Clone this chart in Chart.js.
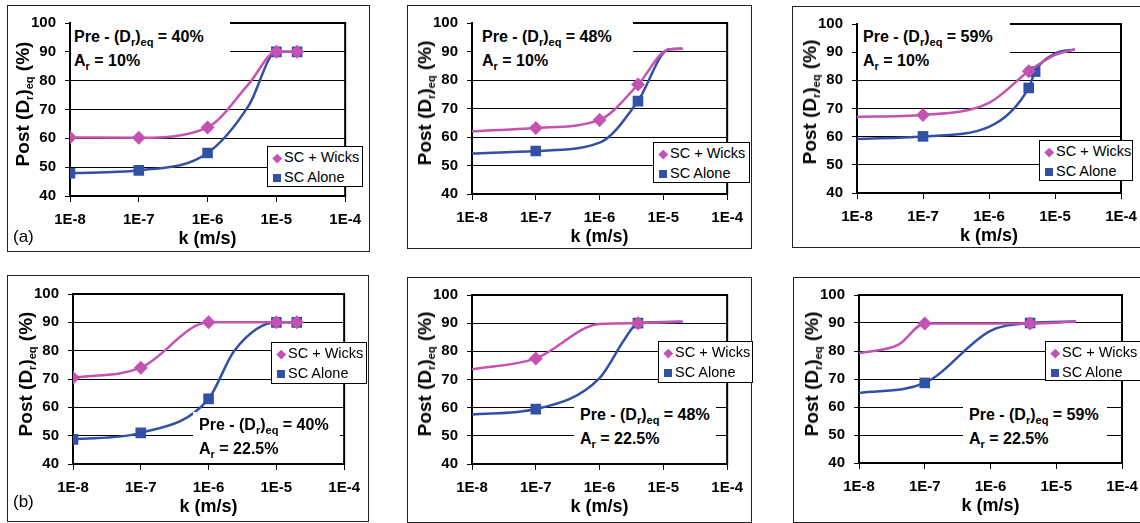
<!DOCTYPE html>
<html>
<head>
<meta charset="utf-8">
<title>Post (Dr)eq vs k</title>
<script src="https://cdn.jsdelivr.net/npm/chart.js@4.4.1/dist/chart.umd.min.js"></script>
<style>
  body {
    margin: 0;
    width: 1140px;
    height: 523px;
    overflow: hidden;
    position: relative;
    background: #fff;
    font-family: "Liberation Sans", Arial, sans-serif;
    color: #000;
  }
  .panel {
    position: absolute;
    border: 1.5px solid #222;
    box-sizing: border-box;
  }
  canvas { position: absolute; }
  .note {
    position: absolute;
    background: #fff;
    font-weight: bold;
    font-size: 16px;
    line-height: 24px;
    white-space: nowrap;
    box-sizing: border-box;
  }
  .note sub, .ytitle sub {
    font-size: 11px;
    line-height: 0;
    vertical-align: -4px;
  }
  .legend {
    position: absolute;
    background: #fff;
    border: 1px solid #000;
    box-sizing: border-box;
    font-size: 14.5px;
    padding-top: 1px;
  }
  .legend .row {
    position: relative;
    height: 19.5px;
    line-height: 19.5px;
    padding-left: 16px;
    white-space: nowrap;
  }
  .legend .dia {
    position: absolute;
    left: 6px; top: 7px;
    width: 6.5px; height: 6.5px;
    transform: rotate(45deg);
  }
  .legend .sq {
    position: absolute;
    left: 5px; top: 6px;
    width: 8px; height: 8px;
  }
  .ytitle {
    position: absolute;
    font-weight: bold;
    font-size: 19px;
    white-space: nowrap;
    transform: translate(-50%, -50%) rotate(-90deg);
  }
  .tag {
    position: absolute;
    font-size: 17px;
    line-height: 20px;
  }
</style>
</head>
<body>
<script>
// axis ticks
var xTickVals = [1e-8, 1e-7, 1e-6, 1e-5, 1e-4];
var xTickLabels = ['1E-8', '1E-7', '1E-6', '1E-5', '1E-4'];
var yMin = 40, yMax = 100, yStep = 10;
var seriesNames = ['SC + Wicks', 'SC Alone'];

// top row, Ar = 10%  (mark 0 = point on the curve without a marker)
var kWicks40a = [1e-8, 1e-7, 1e-6, 4e-6, 1e-5, 2e-5];
var wicks40a = [60.3, 60.2, 63.8, 79, 90, 90];
var markWicks40a = [1, 1, 1, 0, 1, 1];
var kAlone40a = [1e-8, 1e-7, 1e-6, 4e-6, 1e-5, 2e-5];
var alone40a = [47.9, 48.9, 54.9, 71.5, 90, 90];
var markAlone40a = [1, 1, 1, 0, 1, 1];

var kWicks48a = [1e-8, 1e-7, 1e-6, 4e-6, 1.2e-5, 2e-5];
var wicks48a = [62, 63.2, 66, 78.4, 90.7, 91];
var markWicks48a = [0, 1, 1, 1, 0, 0];
var kAlone48a = [1e-8, 1e-7, 1e-6, 4e-6, 1.2e-5, 2e-5];
var alone48a = [54.2, 55.1, 58, 72.6, 90.7, 91];
var markAlone48a = [0, 1, 0, 1, 0, 0];

var kWicks59a = [1e-8, 1e-7, 1e-6, 4e-6, 1e-5, 2e-5];
var wicks59a = [67.1, 67.7, 72, 83.2, 89, 91];
var markWicks59a = [0, 1, 0, 1, 0, 0];
var kAlone59a = [1e-8, 1e-7, 1e-6, 4e-6, 5e-6, 1e-5, 2e-5];
var alone59a = [59.2, 60.1, 63.5, 77.3, 83.1, 89.5, 91];
var markAlone59a = [0, 1, 0, 1, 1, 0, 0];

// bottom row, Ar = 22.5%
var kWicks40b = [1e-8, 1e-7, 1e-6, 1e-5, 2e-5];
var wicks40b = [70.4, 74, 90, 90, 90];
var markWicks40b = [1, 1, 1, 1, 1];
var kAlone40b = [1e-8, 1e-7, 1e-6, 2.4e-6, 1e-5, 2e-5];
var alone40b = [48.7, 51, 63, 80, 90, 90];
var markAlone40b = [1, 1, 1, 0, 1, 1];

var kWicks48b = [1e-8, 1e-7, 1e-6, 4e-6, 2e-5];
var wicks48b = [73.6, 77.5, 89.7, 90, 90.5];
var markWicks48b = [0, 1, 0, 1, 0];
var kAlone48b = [1e-8, 1e-7, 1e-6, 2.5e-6, 4e-6, 2e-5];
var alone48b = [57.6, 59.5, 70.5, 84.5, 90, 90.5];
var markAlone48b = [0, 1, 0, 0, 1, 0];

var kWicks59b = [1e-8, 4e-8, 1e-7, 4e-6, 2e-5];
var wicks59b = [79.2, 82.3, 89.8, 89.8, 90.5];
var markWicks59b = [0, 0, 1, 1, 0];
var kAlone59b = [1e-8, 1e-7, 1e-6, 4e-6, 2e-5];
var alone59b = [65, 68.6, 87.2, 90, 90.5];
var markAlone59b = [0, 1, 0, 1, 0];

var PINK = '#c452b2';
var BLUE = '#3150a6';
var FONT = '"Liberation Sans", Arial, sans-serif';
var YW = 40, XH = 54;

// layout of the six panels: outer box [x, y, w, h], plot area [l, t, r, b]
var panels = [
  {box: [7, 5, 363, 247], plot: [70, 21, 348, 196], pre: '40', ar: '10',
   wicks: [kWicks40a, wicks40a, markWicks40a], alone: [kAlone40a, alone40a, markAlone40a],
   note: [71, 22, 159, 50, 3, 3], legend: [267, 146, 96, 41], tag: ['(a)', 13, 227]},
  {box: [407, 5, 345, 244], plot: [472, 21, 734, 194], pre: '48', ar: '10',
   wicks: [kWicks48a, wicks48a, markWicks48a], alone: [kAlone48a, alone48a, markAlone48a],
   note: [473, 22, 160, 50, 9, 3], legend: [653, 142, 97, 41]},
  {box: [792, 6, 360, 242], plot: [857, 21, 1121, 193], pre: '59', ar: '10',
   wicks: [kWicks59a, wicks59a, markWicks59a], alone: [kAlone59a, alone59a, markAlone59a],
   note: [858, 22, 152, 50, 5, 3], legend: [1039, 140, 94, 41]},
  {box: [7, 275, 362, 247], plot: [73, 294, 348, 464], pre: '40', ar: '22.5',
   wicks: [kWicks40b, wicks40b, markWicks40b], alone: [kAlone40b, alone40b, markAlone40b],
   note: [193, 412, 147, 46, 6, 1], legend: [271, 342, 96, 42], tag: ['(b)', 13, 492]},
  {box: [407, 277, 345, 246], plot: [472, 294, 734, 464], pre: '48', ar: '22.5',
   wicks: [kWicks48b, wicks48b, markWicks48b], alone: [kAlone48b, alone48b, markAlone48b],
   note: [574, 400, 142, 50, 6, 3], legend: [658, 341, 95, 42]},
  {box: [793, 277, 360, 246], plot: [859, 294, 1122, 463], pre: '59', ar: '22.5',
   wicks: [kWicks59b, wicks59b, markWicks59b], alone: [kAlone59b, alone59b, markAlone59b],
   note: [963, 400, 144, 50, 6, 3], legend: [1045, 341, 100, 40]}
];

var framePlugin = {
  id: 'frame',
  beforeDatasetsDraw: function (chart) {
    var a = chart.chartArea, c = chart.ctx;
    c.save();
    c.strokeStyle = '#000';
    c.lineWidth = 2;
    c.strokeRect(a.left, a.top, a.right - a.left, a.bottom - a.top);
    c.restore();
  }
};

function toPoints(xs, ys) {
  return xs.map(function (x, i) { return {x: x, y: ys[i]}; });
}

function el(tag, cls, css, html) {
  var d = document.createElement(tag);
  if (cls) d.className = cls;
  for (var k in css) d.style[k] = css[k];
  if (html) d.innerHTML = html;
  document.body.appendChild(d);
  return d;
}

panels.forEach(function (p) {
  var b = p.box, pl = p.plot;
  el('div', 'panel', {left: b[0] + 'px', top: b[1] + 'px', width: b[2] + 'px', height: b[3] + 'px'});

  var cv = el('canvas', '', {left: b[0] + 'px', top: b[1] + 'px'});
  cv.width = b[2];
  cv.height = b[3];

  new Chart(cv, {
    type: 'line',
    data: {
      datasets: [
        {label: seriesNames[0], data: toPoints(p.wicks[0], p.wicks[1]),
         borderColor: PINK, backgroundColor: PINK, borderWidth: 2.5,
         pointStyle: 'rectRot', pointRadius: p.wicks[2].map(function (m) { return m ? 7 : 0; }),
         pointBorderWidth: 0, tension: 0.4, cubicInterpolationMode: 'monotone'},
        {label: seriesNames[1], data: toPoints(p.alone[0], p.alone[1]),
         borderColor: BLUE, backgroundColor: BLUE, borderWidth: 2.5,
         pointStyle: 'rect', pointRadius: p.alone[2].map(function (m) { return m ? 7.5 : 0; }),
         pointBorderWidth: 0, tension: 0.4, cubicInterpolationMode: 'monotone'}
      ]
    },
    options: {
      responsive: false,
      animation: false,
      events: [],
      layout: {padding: {
        left: pl[0] - b[0] - YW,
        top: pl[1] - b[1],
        right: b[0] + b[2] - pl[2],
        bottom: b[1] + b[3] - pl[3] - XH
      }},
      plugins: {legend: {display: false}, tooltip: {enabled: false}},
      scales: {
        x: {
          type: 'logarithmic', min: 1e-8, max: 1e-4,
          afterBuildTicks: function (s) { s.ticks = xTickVals.map(function (v) { return {value: v}; }); },
          afterFit: function (s) { s.height = XH; },
          ticks: {
            callback: function (v, i) { return xTickLabels[i]; },
            font: {family: FONT, size: 15, weight: 'bold'}, color: '#000',
            padding: 9, maxRotation: 0, autoSkip: false
          },
          grid: {drawOnChartArea: false, tickLength: 6, color: '#000', lineWidth: 1},
          border: {color: '#000', width: 2},
          title: {display: true, text: 'k (m/s)', color: '#000', padding: 0,
                  font: {family: FONT, size: 18, weight: 'bold'}}
        },
        y: {
          min: yMin, max: yMax,
          afterFit: function (s) { s.width = YW; },
          ticks: {stepSize: yStep, padding: 9, color: '#000',
                  font: {family: FONT, size: 15, weight: 'bold'}},
          grid: {color: '#000', tickLength: 5, lineWidth: 1},
          border: {color: '#000', width: 2}
        }
      }
    },
    plugins: [framePlugin]
  });

  var n = p.note;
  el('div', 'note', {left: n[0] + 'px', top: n[1] + 'px', width: n[2] + 'px', height: n[3] + 'px',
                     paddingLeft: n[4] + 'px', paddingTop: n[5] + 'px'},
     'Pre - (D<sub>r</sub>)<sub>eq</sub> = ' + p.pre + '%<br>A<sub>r</sub> = ' + p.ar + '%');

  var lg = p.legend;
  el('div', 'legend', {left: lg[0] + 'px', top: lg[1] + 'px', width: lg[2] + 'px', height: lg[3] + 'px'},
     '<div class="row"><span class="dia" style="background:' + PINK + '"></span>' + seriesNames[0] + '</div>' +
     '<div class="row"><span class="sq" style="background:' + BLUE + '"></span>' + seriesNames[1] + '</div>');

  el('div', 'ytitle', {left: (pl[0] - 47) + 'px', top: ((pl[1] + pl[3]) / 2 - 5) + 'px'},
     'Post (D<sub>r</sub>)<sub>eq</sub> (%)');

  if (p.tag) el('div', 'tag', {left: p.tag[1] + 'px', top: p.tag[2] + 'px'}, p.tag[0]);
});
</script>
</body>
</html>
